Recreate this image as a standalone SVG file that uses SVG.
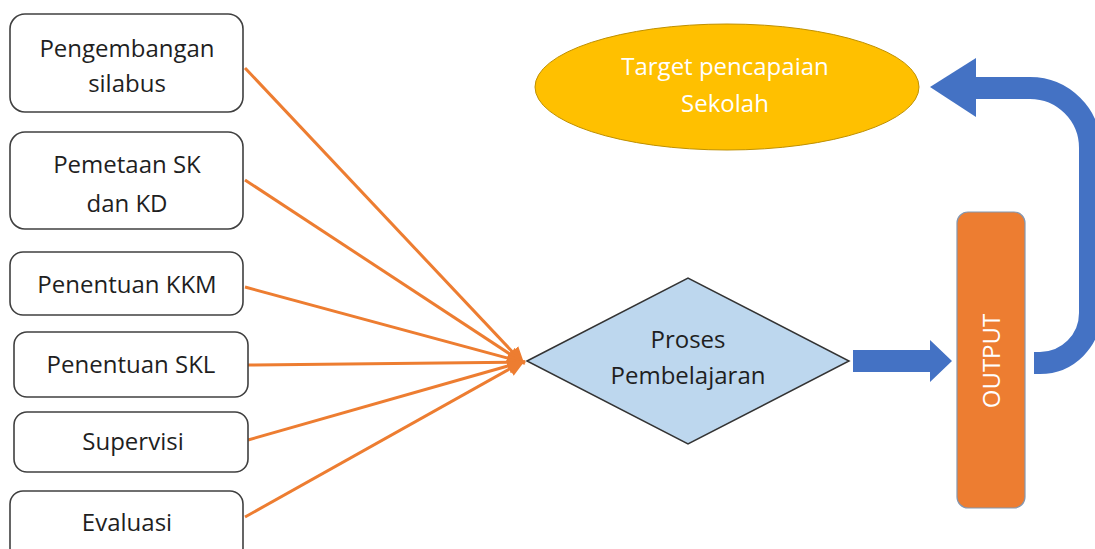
<svg xmlns="http://www.w3.org/2000/svg" width="1095" height="549" viewBox="0 0 1095 549">
<style>
.box{fill:#fff;stroke:#404040;stroke-width:1.6}
.t{font-family:"Open Sans","Liberation Sans",sans-serif;font-size:24px;fill:#1f1f1f;text-anchor:middle}
.w{font-family:"Open Sans","Liberation Sans",sans-serif;font-size:24px;fill:#fff;text-anchor:middle}
.con{stroke:#ED7D31;stroke-width:3;fill:none;marker-end:url(#oh)}
</style>
<defs>
<marker id="oh" markerUnits="userSpaceOnUse" markerWidth="20" markerHeight="20" refX="14" refY="8" orient="auto" viewBox="0 0 20 16">
<path d="M0,0 L18,8 L0,16 Z" fill="#ED7D31"/>
</marker>
</defs>
<rect width="1095" height="549" fill="#fff"/>
<g id="connectors">
<line class="con" x1="245" y1="68" x2="522" y2="362"/>
<line class="con" x1="245" y1="180" x2="522" y2="362"/>
<line class="con" x1="245" y1="287" x2="522" y2="362"/>
<line class="con" x1="248" y1="365" x2="522" y2="362"/>
<line class="con" x1="248" y1="440" x2="522" y2="362"/>
<line class="con" x1="245" y1="517" x2="522" y2="362"/>
<path d="M853,350 H930 V340 L952,361 L930,382 V372 H853 Z" fill="#4472C4"/>
<path d="M1034,363 H1040 A50,50 0 0 0 1090,313 V148 A60,60 0 0 0 1030,88 H972" fill="none" stroke="#4472C4" stroke-width="22"/>
<path d="M976,58 L930,87 L976,117 Z" fill="#4472C4"/>
</g>
<g id="n1"><rect class="box" x="10" y="14" width="233" height="98" rx="15"/>
<text class="t" x="127" y="57">Pengembangan</text><text class="t" x="127" y="92">silabus</text></g>
<g id="n2"><rect class="box" x="10" y="132" width="233" height="97" rx="15"/>
<text class="t" x="127" y="173">Pemetaan SK</text><text class="t" x="127" y="212">dan KD</text></g>
<g id="n3"><rect class="box" x="10" y="252" width="233" height="63" rx="13"/>
<text class="t" x="127" y="293">Penentuan KKM</text></g>
<g id="n4"><rect class="box" x="14" y="332" width="234" height="65" rx="13"/>
<text class="t" x="131" y="373">Penentuan SKL</text></g>
<g id="n5"><rect class="box" x="14" y="412" width="234" height="60" rx="13"/>
<text class="t" x="133" y="450">Supervisi</text></g>
<g id="n6"><rect class="box" x="10" y="491" width="233" height="70" rx="13"/>
<text class="t" x="127" y="531">Evaluasi</text></g>
<g id="proses"><polygon points="527,361 688,278 849,361 688,444" fill="#BDD7EE" stroke="#333" stroke-width="1.5"/>
<text class="t" x="688" y="348">Proses</text><text class="t" x="688" y="384">Pembelajaran</text></g>
<g id="output"><rect x="957" y="212" width="68" height="296" rx="11" fill="#ED7D31" stroke="#8497B0" stroke-width="1.2"/>
<text class="w" transform="translate(1000,361) rotate(-90)">OUTPUT</text></g>
<g id="target"><ellipse cx="727" cy="87" rx="192" ry="63" fill="#FFC000" stroke="#BF9000" stroke-width="1"/>
<text class="w" x="725" y="75">Target pencapaian</text><text class="w" x="725" y="112">Sekolah</text></g>
</svg>
